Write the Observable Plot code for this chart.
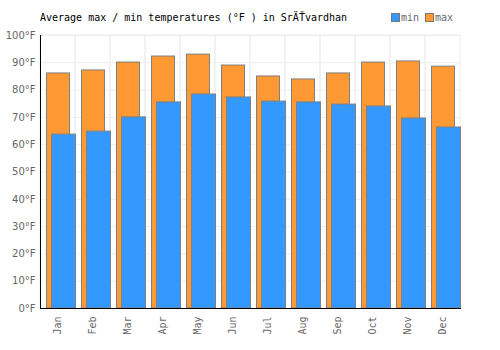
<!DOCTYPE html>
<html><head><meta charset="utf-8">
<script src="https://cdn.jsdelivr.net/npm/d3@7"></script>
<script src="https://cdn.jsdelivr.net/npm/@observablehq/plot@0.6"></script>
<style>
body{margin:0;background:#fff;}
#wrap{position:relative;width:500px;height:350px;}
#title{position:absolute;left:40px;top:12px;font:10px "DejaVu Sans Mono",monospace;color:#000;white-space:pre;}
#legend{position:absolute;left:391px;top:12px;font:10px "DejaVu Sans Mono",monospace;color:#666;display:flex;gap:6px;align-items:center;}
#legend span.sw{display:inline-block;width:7px;height:7px;border:1px solid #777;margin-right:1px;vertical-align:-1px;}
#chart{position:absolute;left:0;top:30px;}
</style></head>
<body><div id="wrap">
<div id="title">Average max / min temperatures (°F ) in SrÄŤvardhan</div>
<div id="legend"><span><span class="sw" style="background:#3399ff"></span>min</span><span><span class="sw" style="background:#ff9933"></span>max</span></div>
<div id="chart"></div>
</div>
<script>
const months = ["Jan","Feb","Mar","Apr","May","Jun","Jul","Aug","Sep","Oct","Nov","Dec"];
const maxTemps = [86.1, 87.2, 90.1, 92.3, 93.0, 89.0, 85.0, 83.9, 86.1, 90.1, 90.5, 88.6];
const minTemps = [63.7, 64.8, 70.0, 75.5, 78.4, 77.3, 75.8, 75.5, 74.7, 74.0, 69.6, 66.3];
const yTicks = [0,10,20,30,40,50,60,70,80,90,100];

const maxData = months.map((m,i)=>({month:m, v:maxTemps[i]}));
const minData = months.map((m,i)=>({month:m, v:minTemps[i]}));

const chart = Plot.plot({
  width: 500, height: 320,
  marginTop: 5, marginBottom: 42, marginLeft: 40, marginRight: 40,
  style: {fontFamily: "DejaVu Sans", fontSize: "10px", color: "#666", background: "#fff"},
  x: {domain: months, padding: 0, label: null},
  y: {domain: [0, 100], ticks: yTicks, label: null, tickFormat: d => d + "°F"},
  marks: [
    Plot.gridY(yTicks, {stroke: "#eeeeee", strokeOpacity: 1}),
    Plot.barY(months, {x: d => d, y1: yTicks[0], y2: yTicks[yTicks.length-1], fill: "none", stroke: "#eeeeee", inset: 0}),
    Plot.barY(maxData, {x: "month", y: "v", fill: "#ff9933", stroke: "#808080", strokeWidth: 1, insetLeft: 6.5, insetRight: 5.5}),
    Plot.barY(minData, {x: "month", y: "v", fill: "#3399ff", stroke: "#808080", strokeWidth: 1, insetLeft: 11.5, insetRight: -0.5}),
    Plot.axisY({ticks: yTicks, tickSize: 0, tickPadding: 5, tickFormat: d => d + "°F", fill: "#666", fontSize: 10}),
    Plot.axisX({tickSize: 0, tickRotate: -90, tickPadding: 8, fontFamily: "DejaVu Sans Mono", fill: "#666", fontSize: 10}),
    Plot.frame({anchor: "left", stroke: "#000"}),
    Plot.frame({anchor: "bottom", stroke: "#000"})
  ]
});
document.getElementById("chart").appendChild(chart);
</script></body></html>
